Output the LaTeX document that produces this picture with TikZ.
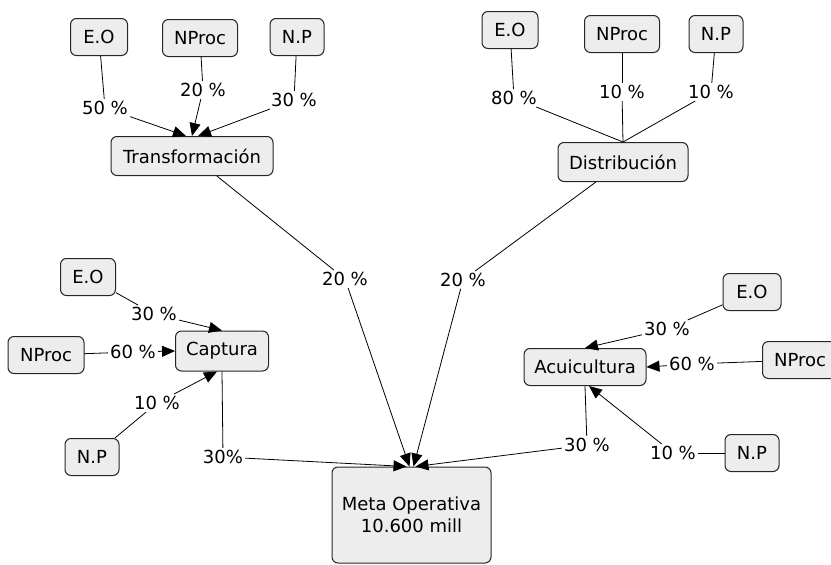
\documentclass[tikz,border=0pt]{standalone}
\usepackage{fontspec}
\setmainfont{DejaVu Sans}
\usetikzlibrary{arrows.meta}
\begin{document}
\begin{tikzpicture} [x = 1pt, y = -1pt,
	concept/.style = {draw = black!85, fill = black!7, rounded corners = 6pt, line width = 1pt, inner sep = 0pt, minimum height = 37pt, font = \fontsize{18}{22}\selectfont},
	pct/.style = {inner sep = 2pt, font = \fontsize{18}{22}\selectfont},
	link/.style = {line width = 0.8pt},
	tolink/.style = {line width = 0.8pt, -{Triangle[length = 13pt, width = 11pt]}}]
	\useasboundingbox (0,0) rectangle (831,565);
	% main nodes
	\node [concept, minimum width = 159pt, minimum height = 96pt, align = center] (meta) at (411.5,515) {Meta Operativa\\10.600 mill};
	\node [concept, minimum width = 162pt, minimum height = 39pt] (trans) at (192,156) {Transformación};
	\node [concept, minimum width = 130pt, minimum height = 39pt] (dist) at (623,162) {Distribución};
	\node [concept, minimum width = 93pt, minimum height = 40pt] (capt) at (222,351) {Captura};
	\node [concept, minimum width = 122pt] (acui) at (585,367) {Acuicultura};
	% transformacion
	\node [concept, minimum width = 57pt] (eoT) at (99,37) {E.O};
	\node [concept, minimum width = 75pt] (npT) at (200,38) {NProc};
	\node [concept, minimum width = 54pt] (npaT) at (297,37) {N.P};
	\node [pct] (peoT) at (105,108) {50 \%};
	\node [pct] (pnpT) at (203,90) {20 \%};
	\node [pct] (pnpaT) at (294,100) {30 \%};
	\draw [link] (eoT) -- (peoT);
	\draw [tolink] (peoT) -- ([xshift = -6pt]trans.north);
	\draw [link] (npT) -- (pnpT);
	\draw [tolink] (pnpT) -- (trans.north);
	\draw [link] (npaT) -- (pnpaT);
	\draw [tolink] (pnpaT) -- ([xshift = 6pt]trans.north);
	% distribucion
	\node [concept, minimum width = 56pt] (eoD) at (510,30) {E.O};
	\node [concept, minimum width = 75pt] (npD) at (622,34) {NProc};
	\node [concept, minimum width = 54pt] (npaD) at (716,34) {N.P};
	\node [pct] (peoD) at (514,98) {80 \%};
	\node [pct] (pnpD) at (622,92) {10 \%};
	\node [pct] (pnpaD) at (711,92) {10 \%};
	\draw [link] (eoD) -- (peoD);
	\draw [link] (peoD) -- (dist.north);
	\draw [link] (npD) -- (pnpD);
	\draw [link] (pnpD) -- (dist.north);
	\draw [link] (npaD) -- (pnpaD);
	\draw [link] (pnpaD) -- (dist.north);
	% captura
	\node [concept, minimum width = 55pt] (eoC) at (88,277) {E.O};
	\node [concept, minimum width = 76pt] (npC) at (46,355) {NProc};
	\node [concept, minimum width = 54pt] (npaC) at (92,457) {N.P};
	\node [pct] (peoC) at (154,314) {30 \%};
	\node [pct] (pnpC) at (133,352) {60 \%};
	\node [pct] (pnpaC) at (157,403) {10 \%};
	\draw [link] (eoC) -- (peoC);
	\draw [tolink] (peoC) -- (capt.north);
	\draw [link] (npC) -- (pnpC);
	\draw [tolink] (pnpC) -- (capt.west);
	\draw [link] (npaC) -- (pnpaC);
	\draw [tolink] (pnpaC) -- ([xshift = -5pt]capt.south);
	% acuicultura
	\node [concept, minimum width = 58pt] (eoA) at (752,292) {E.O};
	\node [concept, minimum width = 75pt] (npA) at (800,360) {NProc};
	\node [concept, minimum width = 54pt] (npaA) at (752,453) {N.P};
	\node [pct] (peoA) at (667,329) {30 \%};
	\node [pct] (pnpA) at (692,364) {60 \%};
	\node [pct] (pnpaA) at (673,453) {10 \%};
	\draw [link] (eoA) -- (peoA);
	\draw [tolink] (peoA) -- (acui.north);
	\draw [link] (npA) -- (pnpA);
	\draw [tolink] (pnpA) -- (acui.east);
	\draw [link] (npaA) -- (pnpaA);
	\draw [tolink] (pnpaA) -- ([xshift = 4pt]acui.south);
	% meta operativa
	\node [pct] (ptrans) at (345,279) {20 \%};
	\node [pct] (pdist) at (463,280) {20 \%};
	\node [pct] (pcapt) at (223,457) {30\%};
	\node [pct] (pacui) at (587,445) {30 \%};
	\draw [link] (trans) -- (ptrans);
	\draw [tolink] (ptrans) -- ([xshift = -2pt]meta.north);
	\draw [link] (dist) -- (pdist);
	\draw [tolink] (pdist) -- ([xshift = 2pt]meta.north);
	\draw [link] (capt.south) -- (pcapt);
	\draw [tolink] (pcapt) -- ([xshift = -5pt]meta.north);
	\draw [link] (acui.south) -- (pacui);
	\draw [tolink] (pacui) -- ([xshift = 4pt]meta.north);
\end{tikzpicture}
\end{document}
